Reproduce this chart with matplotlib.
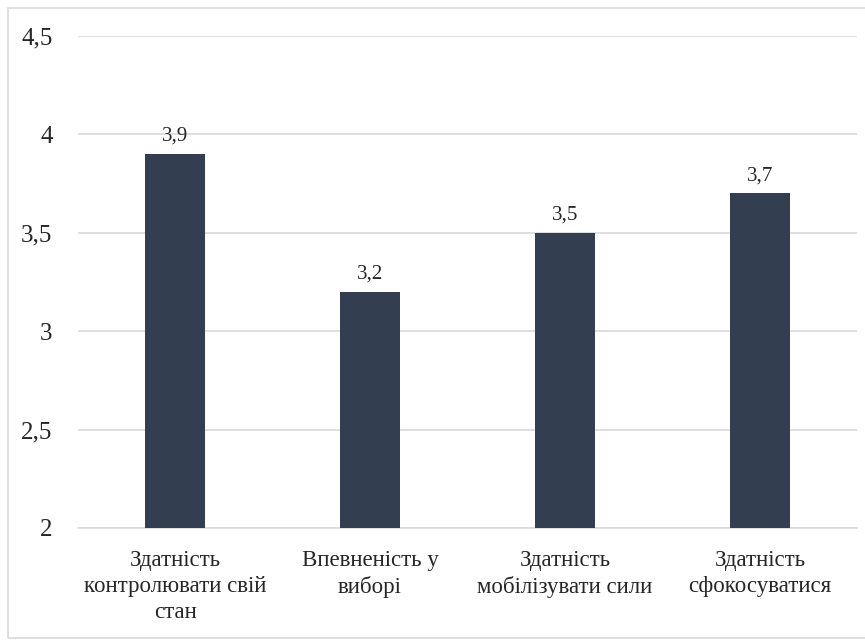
#!/usr/bin/env python3
import matplotlib
matplotlib.use('Agg')
import matplotlib.pyplot as plt
from matplotlib.patches import Rectangle

categories = [
    'Здатність\nконтролювати свій\nстан',
    'Впевненість у\nвиборі',
    'Здатність\nмобілізувати сили',
    'Здатність\nсфокосуватися',
]
values = [3.9, 3.2, 3.5, 3.7]
y_ticks = [2, 2.5, 3, 3.5, 4, 4.5]
y_tick_labels = ['2', '2,5', '3', '3,5', '4', '4,5']

bar_color = '#333F50'
grid_color = '#D9D9D9'
text_color = '#262626'
serif = ['Liberation Serif', 'DejaVu Serif']

plt.rcParams['font.family'] = serif

fig = plt.figure(figsize=(8.65, 6.41), dpi=100)
fig.patches.append(Rectangle((8 / 865, 3 / 641), 1.0, 630 / 641,
                             transform=fig.transFigure, fill=False,
                             edgecolor=grid_color, linewidth=1.2))
ax = fig.add_axes([0.0896, 0.1763, 0.9017, 0.7675])

x = range(len(categories))
bars = ax.bar(x, values, width=0.31, color=bar_color, zorder=3)
for b, v in zip(bars, values):
    ax.annotate(f'{v:.1f}'.replace('.', ','),
                (b.get_x() + b.get_width() / 2, v),
                xytext=(0, 6), textcoords='offset points',
                ha='center', va='bottom', fontsize=15, color=text_color,
                family=serif)

ax.set_xlim(-0.5, len(categories) - 0.5)
ax.set_ylim(2, 4.5)
ax.set_yticks(y_ticks)
ax.set_yticklabels(y_tick_labels, fontsize=18, color=text_color, family=serif)
ax.set_xticks(list(x))
ax.set_xticklabels(categories, fontsize=16.5, color=text_color,
                   linespacing=1.3, family=serif)
ax.tick_params(axis='both', length=0)
ax.tick_params(axis='y', pad=18)
ax.tick_params(axis='x', pad=16)

ax.grid(axis='y', color=grid_color, linewidth=1.2, zorder=0)
for side in ['left', 'right', 'top']:
    ax.spines[side].set_visible(False)
ax.spines['bottom'].set_color(grid_color)
ax.spines['bottom'].set_linewidth(1.2)

fig.savefig('out.png', dpi=100)
